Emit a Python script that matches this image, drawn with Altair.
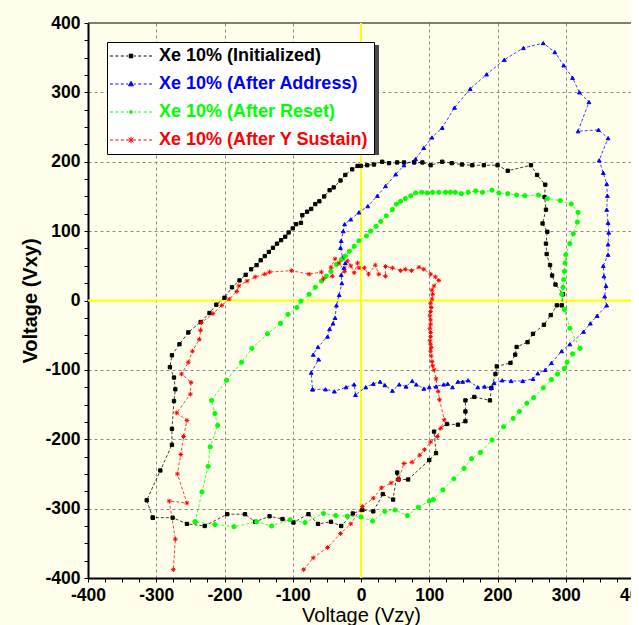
import altair as alt
import pandas as pd

names = ["Xe 10% (Initialized)", "Xe 10% (After Address)",
         "Xe 10% (After Reset)", "Xe 10% (After Y Sustain)"]
colors = ["#000000", "#0000FF", "#00FF00", "#FF0000"]

black_pts = [
    (-305, -313), (-314, -288), (-294, -245), (-277, -208), (-277, -185), (-274, -145),
    (-272, -128), (-274, -111), (-280, -96), (-277, -79), (-266, -63), (-253, -46),
    (-235, -31), (-222, -18), (-212, -6), (-200, 4), (-189, 19), (-178, 29), (-169, 37),
    (-161, 45), (-153, 51), (-147, 58), (-141, 64), (-135, 70), (-129, 76), (-123, 82),
    (-117, 87), (-111, 92), (-106, 98), (-100, 104), (-95, 110), (-88, 112), (-86, 123),
    (-79, 128), (-73, 132), (-67, 139), (-61, 143), (-54, 150), (-46, 159), (-40, 163),
    (-30, 173), (-23, 181), (-13, 189), (-5, 194), (0, 194), (9, 195), (19, 196),
    (31, 200), (41, 198), (53, 199), (63, 199), (78, 199), (90, 199), (102, 195),
    (119, 200), (133, 198), (148, 196), (163, 195), (180, 195), (200, 195), (215, 187),
    (249, 195), (258, 181), (270, 167), (269, 149), (271, 131), (266, 111), (273, 99),
    (271, 82), (272, 67), (277, 51), (280, 36), (285, 23), (296, 9), (294, -7),
    (287, -7), (278, -21), (268, -35), (252, -48), (244, -60), (228, -67), (226, -78),
    (219, -90), (199, -95), (197, -106), (191, -126), (189, -144), (166, -139),
    (153, -144), (153, -160), (153, -174), (142, -179), (126, -178), (107, -189),
    (110, -220), (100, -230), (69, -258), (55, -258), (53, -248), (47, -287), (32, -279),
    (18, -304), (2, -302), (-12, -307), (-29, -325), (-44, -319), (-63, -322),
    (-77, -308), (-99, -320), (-115, -315), (-134, -311), (-155, -319), (-170, -308),
    (-196, -308), (-229, -325), (-255, -322), (-276, -313), (-305, -313),
]

blue_pts = [
    (-71, -128), (-52, -128), (-39, -131), (-22, -125), (-10, -121), (-8, -136), (7, -125),
    (18, -120), (28, -117), (35, -122), (46, -130), (56, -121), (66, -124), (75, -116),
    (81, -121), (92, -127), (100, -125), (110, -124), (121, -121), (127, -120),
    (134, -125), (142, -117), (149, -117), (157, -115), (171, -125), (181, -124),
    (191, -126), (195, -119), (207, -115), (220, -116), (237, -116), (252, -113),
    (259, -105), (270, -100), (279, -90), (294, -73), (306, -63), (326, -45), (336, -33),
    (346, -22), (360, -7), (357, 6), (359, 21), (356, 35), (355, 50), (362, 66),
    (362, 81), (363, 98), (362, 112), (360, 131), (361, 151), (360, 168), (355, 184),
    (349, 202), (362, 234), (348, 246), (318, 244), (334, 286), (320, 300), (310, 321),
    (297, 339), (284, 358), (267, 371), (238, 364), (210, 347), (184, 326), (160, 305),
    (137, 278), (119, 249), (104, 235), (92, 220), (80, 204), (63, 195), (51, 182),
    (36, 165), (24, 151), (10, 136), (-3, 127), (-15, 117), (-24, 110), (-26, 100),
    (-29, 86), (-30, 76), (-27, 62), (-23, 54), (-25, 47), (-29, 37), (-28, 25),
    (-32, 8), (-36, -7), (-38, -25), (-41, -33), (-46, -41), (-49, -52), (-63, -67),
    (-70, -78), (-62, -85), (-73, -104), (-71, -128),
]

green_pts = [
    (-243, -319), (-233, -276), (-224, -239), (-221, -211), (-210, -180), (-214, -163),
    (-219, -144), (-197, -115), (-175, -89), (-160, -69), (-137, -48), (-118, -33),
    (-107, -20), (-94, -10), (-88, -1), (-76, 9), (-67, 19), (-58, 28), (-51, 35),
    (-44, 42), (-36, 52), (-29, 59), (-23, 64), (-17, 71), (-10, 78), (-3, 86), (8, 93),
    (14, 100), (22, 107), (29, 114), (37, 122), (46, 131), (52, 139), (58, 143),
    (65, 147), (73, 151), (80, 155), (89, 156), (97, 155), (105, 156), (114, 156),
    (124, 156), (131, 156), (138, 156), (147, 154), (157, 156), (168, 158), (178, 156),
    (192, 159), (202, 155), (215, 154), (228, 152), (240, 151), (260, 152), (273, 147),
    (292, 144), (308, 139), (318, 127), (317, 113), (311, 96), (306, 82), (300, 66),
    (299, 54), (298, 42), (297, 30), (296, 19), (294, 9), (298, -13), (306, -40),
    (321, -69), (310, -77), (302, -89), (298, -98), (288, -106), (279, -114),
    (267, -126), (253, -140), (243, -148), (232, -160), (223, -170), (209, -182),
    (192, -201), (175, -219), (162, -228), (151, -242), (136, -257), (120, -273),
    (106, -287), (100, -289), (84, -298), (68, -310), (50, -302), (35, -304), (17, -318),
    (0, -312), (-20, -311), (-37, -310), (-55, -307), (-82, -320), (-104, -316),
    (-131, -325), (-153, -319), (-186, -326), (-214, -323), (-243, -319),
]

red_pts = [
    (-84, -388), (-70, -371), (-49, -356), (-30, -336), (-15, -322), (2, -297), (18, -285),
    (30, -270), (44, -263), (55, -258), (63, -235), (75, -233), (86, -223), (93, -215),
    (102, -204), (112, -196), (117, -184), (122, -172), (115, -143), (113, -131),
    (110, -113), (107, -100), (105, -94), (104, -88), (103, -80), (102, -73), (103, -68),
    (102, -63), (101, -58), (102, -52), (102, -46), (101, -40), (102, -34), (102, -28),
    (101, -22), (102, -16), (103, -10), (102, -4), (104, 2), (105, 9), (104, 15),
    (107, 21), (114, 29), (109, 34), (102, 38), (92, 45), (85, 48), (74, 43), (65, 45),
    (58, 43), (46, 47), (36, 49), (36, 35), (26, 38), (21, 51), (11, 38), (5, 47),
    (-3, 47), (-5, 54), (-10, 40), (-15, 50), (-20, 57), (-24, 42), (-32, 54), (-38, 60),
    (-44, 48), (-42, 35), (-55, 31), (-58, 41), (-76, 38), (-102, 43), (-134, 41),
    (-141, 38), (-155, 34), (-167, 28), (-179, 21), (-182, 13), (-193, 2), (-204, -7),
    (-217, -19), (-234, -32), (-235, -43), (-237, -56), (-247, -73), (-253, -89),
    (-263, -106), (-249, -118), (-250, -135), (-270, -162), (-255, -173), (-260, -196),
    (-264, -222), (-269, -250), (-255, -292), (-281, -289), (-272, -344), (-275, -388),
]

tick_values = list(range(-400, 401, 25))

ASTER = "M-1,0H1M0,-1V1M-0.7,-0.7L0.7,0.7M-0.7,0.7L0.7,-0.7"
marker_shapes = ["square", "triangle-up", "circle", ASTER]
marker_sizes = [11, 21, 9, 46]

DASH = "M-7,0H-6M-5.2,0H-4.2M-3.4,0H-2.4M-1.6,0H-1M1,0H1.6M2.4,0H3.4M4.2,0H5.2M6,0H7"
legend_shapes = [
    DASH + "M-0.6,-0.6H0.6V0.6H-0.6Z",
    DASH + "M0,-0.9L0.85,0.6L-0.85,0.6Z",
    DASH + "M-0.5,0A0.5,0.5,0,1,0,0.5,0A0.5,0.5,0,1,0,-0.5,0Z",
    DASH + "M-1.1,0H1.1M0,-1.1V1.1M-0.8,-0.8L0.8,0.8M-0.8,0.8L0.8,-0.8",
]

rows = []
for name, pts in zip(names, [black_pts, blue_pts, green_pts, red_pts]):
    for i, (vx, vy) in enumerate(pts):
        rows.append({"series": name, "idx": i, "x": vx, "y": vy})
df = pd.DataFrame(rows)
zero_df = pd.DataFrame({"v": [0]})

W, H = 546, 555
FONT = "Liberation Sans"
LEG_X, LEG_Y, LEG_W, LEG_H = 19, 19, 269, 110

xs = alt.Scale(domain=[-400, 400], nice=False, zero=False)
ys = alt.Scale(domain=[-400, 400], nice=False, zero=False)

grid_cond = {"condition": {"test": "datum.value % 100 == 0 && abs(datum.value) < 400 && datum.value != 0",
                           "value": 1}, "value": 0}
label_expr = "datum.value % 100 == 0 ? (datum.value < 0 ? '-' : '') + abs(datum.value) : ''"

common_axis = dict(values=tick_values, labelExpr=label_expr, labelOverlap=False, labelFlush=False,
                   grid=True, gridOpacity=grid_cond, gridColor="#8a8a8a", gridDash=[3, 3], gridWidth=1,
                   domainColor="#000000", domainWidth=2, tickColor="#000000", tickSize=4, tickWidth=1,
                   labelFont=FONT, labelFontSize=17.5, labelFontWeight="bold", labelColor="#000000",
                   labelPadding=4, titleFont=FONT, titleFontSize=20, titleColor="#000000")

x_axis = alt.Axis(title="Voltage (Vzy)", titleFontWeight="normal", titlePadding=2, **common_axis)
y_axis = alt.Axis(title="Voltage (Vxy)", titleFontWeight="bold", titlePadding=4, **common_axis)

color_scale = alt.Scale(domain=names, range=colors)

label_color_expr = ("datum.value == '" + names[0] + "' ? '#000000' : datum.value == '" + names[1] +
                    "' ? '#0000FF' : datum.value == '" + names[2] + "' ? '#00FF00' : '#FF0000'")

leg = alt.Legend(title=None, orient="none", legendX=LEG_X, legendY=LEG_Y, fillColor="#FFFFFF",
                 strokeColor="#000000", padding=5, rowPadding=10, cornerRadius=0,
                 labelFont=FONT, labelFontSize=18, labelFontWeight="bold", labelLimit=400,
                 labelColor={"expr": label_color_expr}, labelOffset=19, symbolOffset=10,
                 symbolSize=36, symbolStrokeWidth=1)

border = alt.Chart(zero_df).mark_rule(color="#000000", strokeWidth=1).encode(
    x=alt.value(0), x2=alt.value(W), y=alt.value(0))

shadow = alt.Chart(zero_df).mark_rect(color="#4a4a4a").encode(
    x=alt.value(LEG_X + 3), x2=alt.value(LEG_X + LEG_W + 3),
    y=alt.value(LEG_Y + 3), y2=alt.value(LEG_Y + LEG_H + 3))

vrule = alt.Chart(zero_df).mark_rule(color="#FFFF00", strokeWidth=2).encode(
    x=alt.X("v:Q", scale=xs, axis=x_axis))
hrule = alt.Chart(zero_df).mark_rule(color="#FFFF00", strokeWidth=2).encode(
    y=alt.Y("v:Q", scale=ys, axis=y_axis))

base = alt.Chart(df)
lines = base.mark_line(strokeDash=[3, 2], strokeWidth=1, opacity=0.75).encode(
    x=alt.X("x:Q", scale=xs, axis=x_axis),
    y=alt.Y("y:Q", scale=ys, axis=y_axis),
    color=alt.Color("series:N", scale=color_scale, legend=None),
    order="idx:Q",
)
points = base.mark_point(filled=True, strokeWidth=1, opacity=1).encode(
    x=alt.X("x:Q", scale=xs, axis=x_axis),
    y=alt.Y("y:Q", scale=ys, axis=y_axis),
    color=alt.Color("series:N", scale=color_scale, legend=None),
    stroke=alt.Stroke("series:N", scale=color_scale, legend=None),
    shape=alt.Shape("series:N", scale=alt.Scale(domain=names, range=marker_shapes), legend=None),
    size=alt.Size("series:O", scale=alt.Scale(domain=names, range=marker_sizes), legend=None),
)
legend_layer = base.transform_filter("false").mark_point(
    filled=True, size=36, strokeWidth=1, opacity=1).encode(
    color=alt.Color("series:N", scale=alt.Scale(domain=names, range=colors), legend=leg),
    stroke=alt.Stroke("series:N", scale=alt.Scale(domain=names, range=colors), legend=leg),
    shape=alt.Shape("series:N", scale=alt.Scale(domain=names, range=legend_shapes), legend=leg),
)

chart = alt.layer(border, vrule, hrule, lines, points, shadow, legend_layer).resolve_scale(
    color="independent", stroke="independent", shape="independent", size="independent"
).properties(
    width=W, height=H,
    autosize=alt.AutoSizeParams(type="none"),
    padding={"left": 88, "top": 23, "right": -3, "bottom": 47},
    background="#FEFEEA",
).configure_view(
    fill="#FFFFE6",
    stroke=None,
)

chart.save("out.html", embed_options={"renderer": "svg", "actions": False})
